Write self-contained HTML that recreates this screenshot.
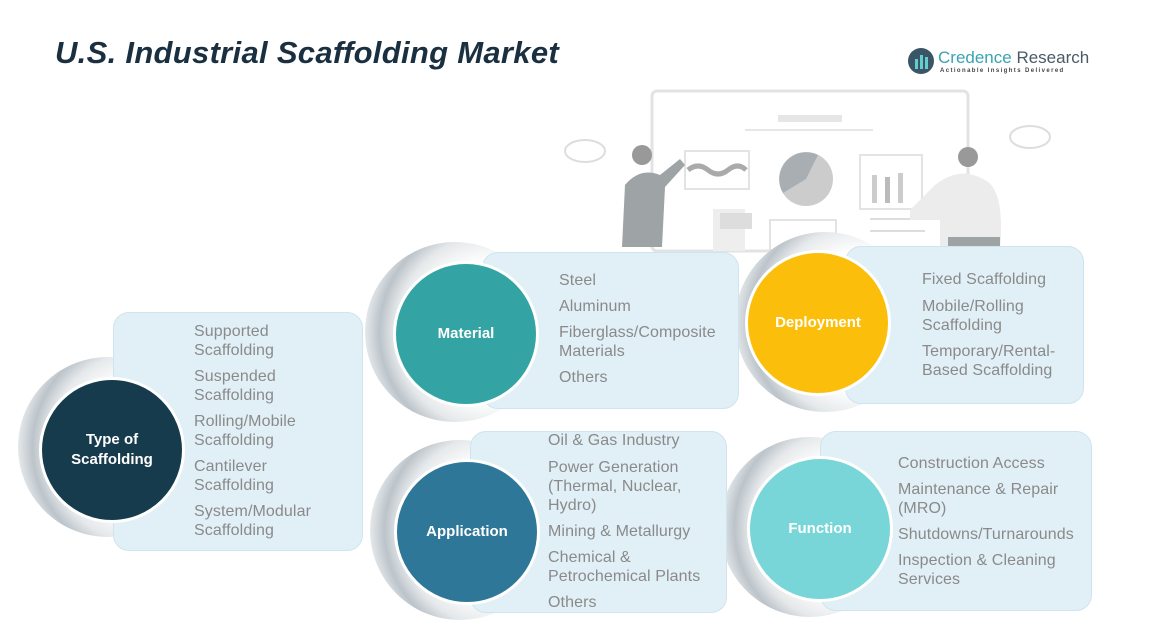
<!DOCTYPE html>
<html><head><meta charset="utf-8"><style>
body{margin:0;width:1151px;height:635px;background:#fff;position:relative;overflow:hidden;font-family:"Liberation Sans",sans-serif}
.a{position:absolute}
.p{position:absolute;background:#e1eff7;border:1.5px solid #cfe4ef;border-radius:16px}
.sh{position:absolute;border-radius:50%;background:radial-gradient(circle at 70% 50%,#fff 45%,#e6e9eb 62%,#bcc4ca 72%,#f4f6f7 85%,rgba(255,255,255,0) 100%)}
.c{position:absolute;border-radius:50%;border:3px solid #fff;color:#fff;font-weight:bold;font-size:15px;display:flex;align-items:center;justify-content:center;text-align:center;line-height:20px}
.t{position:absolute;color:#8a8a8a;font-size:16px;line-height:20px;white-space:nowrap;letter-spacing:0.1px}
</style></head><body>
<div class="a" style="left:55px;top:35px;font-size:31px;font-weight:bold;font-style:italic;color:#1a2f40;letter-spacing:0.3px">U.S. Industrial Scaffolding Market</div>
<!-- logo -->
<svg class="a" style="left:906px;top:46px" width="30" height="30"><circle cx="15" cy="15" r="13" fill="#3a5566"/><rect x="9" y="13" width="3" height="10" fill="#6cc"/><rect x="14" y="9" width="3" height="14" fill="#6cc"/><rect x="19" y="11" width="3" height="12" fill="#6cc"/></svg>
<div class="a" style="left:938px;top:48px;font-size:17px;color:#3aa3b3">Credence <span style="color:#4a5a66">Research</span></div>
<div class="a" style="left:940px;top:68px;font-size:6px;letter-spacing:1.4px;color:#444;font-weight:bold">Actionable Insights Delivered</div>
<!-- illustration -->
<svg class="a" style="left:540px;top:85px" width="520" height="170">
<rect x="112" y="6" width="316" height="160" rx="5" fill="#fff" stroke="#e3e3e3" stroke-width="3"/>
<rect x="238" y="30" width="64" height="7" fill="#e6e6e6"/><rect x="205" y="44" width="128" height="2" fill="#e6e6e6"/>
<rect x="145" y="66" width="64" height="38" fill="none" stroke="#e3e3e3" stroke-width="2"/>
<path d="M148 85 q10-8 20 0 t20 0 t18 0" stroke="#aaa" stroke-width="5" fill="none"/>
<circle cx="266" cy="94" r="27" fill="#ccc"/><path d="M266 94 L278 70 A27 27 0 0 0 243 108Z" fill="#a8aeb2"/>
<rect x="320" y="70" width="62" height="54" fill="none" stroke="#e3e3e3" stroke-width="2"/>
<rect x="332" y="90" width="5" height="28" fill="#ccc"/><rect x="345" y="92" width="5" height="26" fill="#bbb"/><rect x="358" y="88" width="5" height="30" fill="#ccc"/>
<rect x="173" y="124" width="32" height="42" fill="#eee"/><rect x="180" y="128" width="32" height="16" fill="#ddd"/>
<rect x="230" y="135" width="66" height="30" fill="none" stroke="#e3e3e3" stroke-width="2"/>
<rect x="330" y="133" width="65" height="2" fill="#ddd"/><rect x="330" y="145" width="55" height="2" fill="#ddd"/>
<ellipse cx="45" cy="66" rx="20" ry="11" fill="none" stroke="#ddd" stroke-width="2"/>
<ellipse cx="490" cy="52" rx="20" ry="11" fill="none" stroke="#ddd" stroke-width="2"/>
<circle cx="102" cy="70" r="10" fill="#999"/><path d="M85 100 q15-18 35-10 l20-16 5 6-20 22 -3 60 -40 0z" fill="#9ea3a6"/>
<circle cx="428" cy="72" r="10" fill="#999"/><path d="M395 100 q25-20 50-5 q20 10 15 70 l-60 0 0-30 -30 0 0-10z" fill="#ececec"/><rect x="408" y="152" width="52" height="14" fill="#9ea3a6"/>
</svg>
<!-- shadows -->
<div class="sh" style="left:18px;top:357px;width:180px;height:180px"></div>
<div class="sh" style="left:365px;top:242px;width:180px;height:180px"></div>
<div class="sh" style="left:735px;top:232px;width:180px;height:180px"></div>
<div class="sh" style="left:370px;top:440px;width:180px;height:180px"></div>
<div class="sh" style="left:720px;top:437px;width:180px;height:180px"></div>
<!-- panels -->
<div class="p" style="left:113px;top:312px;width:248px;height:237px"></div>
<div class="p" style="left:482px;top:252px;width:255px;height:155px"></div>
<div class="p" style="left:845px;top:246px;width:237px;height:156px"></div>
<div class="p" style="left:470px;top:431px;width:255px;height:180px"></div>
<div class="p" style="left:820px;top:431px;width:270px;height:178px"></div>
<!-- circles -->
<div class="c" style="left:39px;top:377px;width:140px;height:140px;background:#163b4c">Type of<br>Scaffolding</div>
<div class="c" style="left:393px;top:261px;width:140px;height:140px;background:#33a3a3">Material</div>
<div class="c" style="left:745px;top:250px;width:140px;height:140px;background:#fbbf0b">Deployment</div>
<div class="c" style="left:394px;top:459px;width:140px;height:140px;background:#2e7799">Application</div>
<div class="c" style="left:747px;top:456px;width:140px;height:140px;background:#79d6d8">Function</div>
<!-- texts -->
<div class="t" style="left:194px;top:322px">Supported</div><div class="t" style="left:194px;top:341px">Scaffolding</div>
<div class="t" style="left:194px;top:367px">Suspended</div><div class="t" style="left:194px;top:386px">Scaffolding</div>
<div class="t" style="left:194px;top:412px">Rolling/Mobile</div><div class="t" style="left:194px;top:431px">Scaffolding</div>
<div class="t" style="left:194px;top:457px">Cantilever</div><div class="t" style="left:194px;top:476px">Scaffolding</div>
<div class="t" style="left:194px;top:502px">System/Modular</div><div class="t" style="left:194px;top:521px">Scaffolding</div>

<div class="t" style="left:559px;top:271px">Steel</div>
<div class="t" style="left:559px;top:297px">Aluminum</div>
<div class="t" style="left:559px;top:323px">Fiberglass/Composite</div><div class="t" style="left:559px;top:342px">Materials</div>
<div class="t" style="left:559px;top:368px">Others</div>

<div class="t" style="left:922px;top:270px">Fixed Scaffolding</div>
<div class="t" style="left:922px;top:297px">Mobile/Rolling</div><div class="t" style="left:922px;top:316px">Scaffolding</div>
<div class="t" style="left:922px;top:342px">Temporary/Rental-</div><div class="t" style="left:922px;top:361px">Based Scaffolding</div>

<div class="t" style="left:548px;top:431px">Oil &amp; Gas Industry</div>
<div class="t" style="left:548px;top:458px">Power Generation</div><div class="t" style="left:548px;top:477px">(Thermal, Nuclear,</div><div class="t" style="left:548px;top:496px">Hydro)</div>
<div class="t" style="left:548px;top:522px">Mining &amp; Metallurgy</div>
<div class="t" style="left:548px;top:548px">Chemical &amp;</div><div class="t" style="left:548px;top:567px">Petrochemical Plants</div>
<div class="t" style="left:548px;top:593px">Others</div>

<div class="t" style="left:898px;top:454px">Construction Access</div>
<div class="t" style="left:898px;top:480px">Maintenance &amp; Repair</div><div class="t" style="left:898px;top:499px">(MRO)</div>
<div class="t" style="left:898px;top:525px">Shutdowns/Turnarounds</div>
<div class="t" style="left:898px;top:551px">Inspection &amp; Cleaning</div><div class="t" style="left:898px;top:570px">Services</div>
</body></html>
